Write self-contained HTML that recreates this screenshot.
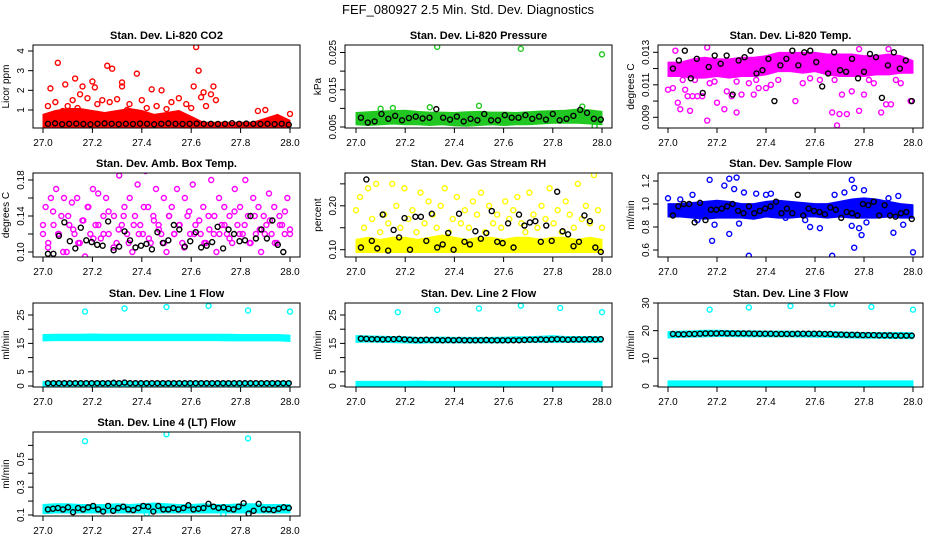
<!DOCTYPE html>
<html><head><meta charset="utf-8"><style>
html,body{margin:0;padding:0;background:#fff;}
svg{display:block;font-family:"Liberation Sans",Arial,sans-serif;}
</style></head><body>
<svg id="chart" width="936" height="540" viewBox="0 0 936 540" xmlns="http://www.w3.org/2000/svg">
<rect width="936" height="540" fill="#fff"/>
<text x="468" y="14" text-anchor="middle" font-size="13">FEF_080927  2.5 Min. Std. Dev. Diagnostics</text>
</svg>
<script>
// ---- data (envelopes: 21 bins from 27.00 to 28.00 by 0.05) ----
const co2EnvLo=[0.2,0.2,0.2,0.2,0.2,0.2,0.2,0.2,0.2,0.2,0.2,0.2,0.2,0.2,0.2,0.2,0.2,0.2,0.2,0.2,0.2];
const co2EnvHi=[0.7,0.9,1.0,1.0,0.9,0.8,0.9,1.0,0.9,0.7,0.8,0.9,0.6,0.3,0.3,0.3,0.3,0.3,0.5,0.7,0.4];
const co2Out=[[27.03,2.1],[27.06,3.4],[27.09,2.3],[27.13,2.6],[27.16,2.2],[27.15,1.8],[27.2,2.45],[27.21,2.15],[27.26,3.25],[27.28,3.1],[27.32,2.2],[27.32,2.4],[27.38,2.85],[27.44,2.05],[27.48,2.0],[27.55,1.6],[27.61,2.2],[27.65,1.9],[27.68,1.8],[27.69,2.2],[27.7,1.5],[27.62,4.2],[27.63,3.0],[27.64,1.65],[27.9,1.0],[27.87,0.95],[28.0,0.8],[27.02,1.2],[27.05,1.4],[27.12,1.5],[27.4,1.5],[27.18,1.6],[27.24,1.5],[27.35,1.3],[27.52,1.4],[27.58,1.3],[27.08,0.95],[27.3,1.55],[27.1,1.2],[27.22,1.3],[27.27,1.4],[27.42,1.1],[27.46,1.2],[27.5,1.05],[27.6,1.1],[27.66,1.2],[27.34,1.0],[27.14,1.1]];
const co2Black=[0.3,0.32,0.28,0.3,0.31,0.29,0.27,0.3,0.32,0.3,0.28,0.3,0.29,0.31,0.3,0.27,0.3,0.32,0.3,0.29,0.3,0.31,0.3,0.3,0.29,0.3,0.33,0.3,0.31,0.3,0.29,0.3,0.28,0.3,0.25];

const presEnvLo=[0.006,0.0058,0.006,0.0062,0.006,0.006,0.0058,0.006,0.0057,0.0056,0.0058,0.006,0.0058,0.006,0.006,0.0062,0.0064,0.0064,0.0064,0.0062,0.006];
const presEnvHi=[0.0085,0.0087,0.0089,0.009,0.0091,0.0088,0.0086,0.0086,0.0085,0.0087,0.0088,0.0086,0.0086,0.0085,0.0087,0.0089,0.009,0.0091,0.0094,0.0092,0.0088];
const presOut=[[27.33,0.0265],[27.67,0.026],[28.0,0.0245],[27.3,0.0103],[27.5,0.0107],[27.92,0.0105],[27.15,0.0101],[27.1,0.0099],[27.97,0.0052]];
const presBlack=[0.0075,0.0062,0.0065,0.0085,0.0072,0.008,0.0068,0.0074,0.0078,0.0073,0.0075,0.0098,0.0075,0.007,0.0078,0.0065,0.0072,0.0068,0.0085,0.0068,0.0068,0.0082,0.0075,0.0075,0.0082,0.0072,0.0078,0.007,0.0085,0.0068,0.0072,0.008,0.0096,0.0088,0.0072,0.007];

const tempEnvLo=[0.0116,0.0116,0.0115,0.0115,0.0116,0.0115,0.0116,0.0116,0.0117,0.0119,0.0119,0.0118,0.0119,0.0117,0.0116,0.0116,0.0116,0.0117,0.0117,0.0118,0.0118];
const tempEnvHi=[0.0123,0.0123,0.0125,0.0126,0.0125,0.0125,0.0126,0.0126,0.0127,0.0129,0.0129,0.0129,0.0129,0.0128,0.0128,0.0128,0.0127,0.0127,0.0128,0.0127,0.0124];
const tempOut=[[27.0,0.0107],[27.02,0.0108],[27.04,0.0099],[27.05,0.0095],[27.05,0.0081],[27.07,0.0107],[27.08,0.0103],[27.09,0.0094],[27.1,0.0103],[27.12,0.0103],[27.14,0.0103],[27.16,0.0088],[27.17,0.0111],[27.2,0.0099],[27.23,0.0095],[27.24,0.0106],[27.26,0.0103],[27.28,0.0093],[27.3,0.0104],[27.33,0.0111],[27.35,0.0104],[27.37,0.0108],[27.4,0.0108],[27.42,0.011],[27.45,0.0113],[27.52,0.01],[27.55,0.0111],[27.62,0.0113],[27.67,0.0093],[27.69,0.0085],[27.7,0.0092],[27.71,0.0104],[27.73,0.0092],[27.75,0.0106],[27.78,0.0094],[27.8,0.0104],[27.84,0.0111],[27.87,0.0093],[27.89,0.0098],[27.91,0.0098],[27.95,0.0111],[27.99,0.01],[27.03,0.0131],[27.16,0.0133],[27.78,0.0132],[27.9,0.0132],[27.98,0.0119],[27.06,0.0113],[27.11,0.0113],[27.19,0.0112],[27.28,0.0112],[27.36,0.0113],[27.58,0.0114],[27.68,0.0113],[27.82,0.0113],[27.93,0.0113]];
const tempBlack=[0.0120,0.0125,0.0131,0.0114,0.0126,0.0105,0.0121,0.0128,0.0123,0.0128,0.0104,0.0125,0.0127,0.0131,0.0117,0.0119,0.0126,0.01,0.0122,0.0126,0.0131,0.0122,0.013,0.0131,0.0124,0.0109,0.0117,0.013,0.0119,0.0118,0.0126,0.0114,0.0118,0.0129,0.0127,0.0102,0.0122,0.013,0.012,0.0125,0.01];

const ambVals=[0.12,0.15,0.11,0.16,0.13,0.17,0.12,0.14,0.16,0.1,0.13,0.155,0.12,0.16,0.11,0.135,0.095,0.15,0.12,0.17,0.13,0.165,0.115,0.14,0.16,0.12,0.195,0.14,0.11,0.185,0.13,0.15,0.12,0.16,0.1,0.14,0.175,0.13,0.12,0.19,0.15,0.11,0.14,0.17,0.13,0.12,0.16,0.1,0.14,0.15,0.12,0.17,0.13,0.11,0.16,0.14,0.12,0.175,0.13,0.205,0.12,0.15,0.11,0.14,0.18,0.12,0.1,0.16,0.13,0.15,0.12,0.14,0.11,0.17,0.13,0.15,0.12,0.18,0.14,0.11,0.16,0.12,0.15,0.1,0.14,0.13,0.165,0.12,0.15,0.11,0.14,0.13,0.12,0.16,0.125];
const ambVals2=[0.13,0.105,0.145,0.12,0.1,0.14,0.125,0.11,0.135,0.15,0.115,0.13,0.12,0.145,0.105,0.125,0.14,0.11,0.13,0.12,0.15,0.115,0.135,0.125,0.11,0.14,0.12,0.13,0.105,0.145,0.12,0.135,0.11,0.125,0.14,0.12,0.13,0.115,0.145,0.12,0.13,0.11,0.14,0.125,0.12,0.135,0.11,0.13,0.145,0.12];
const ambBlack=[0.098,0.098,0.118,0.133,0.112,0.104,0.127,0.113,0.111,0.108,0.107,0.134,0.102,0.106,0.123,0.113,0.105,0.107,0.109,0.103,0.122,0.110,0.113,0.13,0.125,0.106,0.112,0.122,0.105,0.107,0.111,0.128,0.104,0.125,0.12,0.112,0.113,0.14,0.115,0.125,0.115,0.135,0.108,0.1,0.09];

const rhEnvLo=[0.097,0.097,0.097,0.097,0.097,0.097,0.097,0.097,0.097,0.097,0.097,0.097,0.097,0.097,0.097,0.097,0.097,0.097,0.097,0.097,0.097];
const rhEnvHi=[0.12,0.125,0.12,0.125,0.125,0.12,0.125,0.13,0.125,0.12,0.125,0.125,0.12,0.125,0.125,0.12,0.125,0.125,0.12,0.125,0.12];
const rhVals=[0.19,0.22,0.15,0.24,0.17,0.25,0.14,0.18,0.16,0.25,0.2,0.15,0.24,0.17,0.19,0.14,0.23,0.16,0.21,0.18,0.15,0.2,0.24,0.14,0.17,0.22,0.16,0.19,0.15,0.21,0.18,0.23,0.14,0.2,0.16,0.18,0.15,0.21,0.17,0.19,0.22,0.16,0.14,0.23,0.18,0.15,0.2,0.17,0.24,0.16,0.19,0.14,0.21,0.18,0.15,0.25,0.17,0.2,0.16,0.27,0.19,0.15];
const rhBlack=[0.105,0.26,0.12,0.103,0.18,0.098,0.145,0.128,0.172,0.10,0.175,0.175,0.12,0.182,0.105,0.112,0.138,0.10,0.182,0.118,0.112,0.142,0.125,0.138,0.188,0.118,0.115,0.16,0.105,0.18,0.155,0.162,0.165,0.118,0.155,0.12,0.232,0.142,0.135,0.108,0.118,0.178,0.165,0.105,0.095];

const flowEnvLo=[0.9,0.9,0.89,0.88,0.89,0.89,0.89,0.88,0.9,0.89,0.89,0.9,0.9,0.89,0.9,0.89,0.89,0.89,0.9,0.89,0.89];
const flowEnvHi=[0.99,0.99,1.0,1.01,1.02,1.01,0.99,0.99,1.01,1.02,1.01,1.0,0.99,0.99,1.01,1.03,1.04,1.03,1.01,0.99,0.98];
const flowOut=[[27.0,1.05],[27.05,1.04],[27.1,1.08],[27.17,1.21],[27.18,0.68],[27.19,0.82],[27.23,1.16],[27.25,1.22],[27.25,0.74],[27.27,1.13],[27.28,1.23],[27.29,0.83],[27.33,0.55],[27.31,1.1],[27.4,1.08],[27.42,1.09],[27.48,0.88],[27.56,0.86],[27.58,0.8],[27.62,0.79],[27.67,0.55],[27.68,1.08],[27.72,1.1],[27.75,1.21],[27.76,1.14],[27.75,0.81],[27.76,0.62],[27.78,0.79],[27.79,0.73],[27.8,1.12],[27.81,0.84],[27.92,0.75],[27.94,1.07],[27.96,0.82],[28.0,0.58],[27.9,1.05],[27.12,0.86],[27.36,1.09]];
const flowBlack=[0.9,0.98,1.0,1.0,0.84,1.01,0.86,0.95,0.95,0.96,0.98,1.0,0.94,0.92,0.98,0.92,0.94,0.96,0.98,1.02,0.92,0.96,0.92,1.08,0.9,0.96,0.94,0.93,0.91,0.97,0.95,0.88,0.93,0.92,0.9,1.0,0.99,1.02,0.9,0.99,0.9,0.89,0.92,0.93,0.87];

const l1EnvLo=[16.4,16.5,16.5,16.5,16.5,16.5,16.5,16.5,16.5,16.5,16.5,16.5,16.5,16.5,16.5,16.4,16.4,16.4,16.4,16.4,16.2];
const l1EnvHi=[17.6,17.7,17.7,17.7,17.8,17.7,17.7,17.7,17.7,17.7,17.7,17.7,17.7,17.7,17.7,17.7,17.6,17.6,17.6,17.6,17.4];
const l1Out=[[27.17,26.2],[27.33,27.3],[27.5,27.8],[27.67,28.2],[27.83,26.6],[28.0,26.2]];
const l1Black=[1.0,1.0,1.0,1.0,1.0,1.0,1.0,1.0,1.0,1.0,1.0,1.0,1.1,1.0,1.2,1.0,1.0,1.0,1.0,1.0,1.0,1.0,1.0,1.0,1.0,1.0,1.0,1.0,1.0,1.0,1.0,1.0,1.0,1.0,1.0,1.0,1.0,1.0,1.0,1.0,1.0,1.0,1.0,1.0,1.0];

const l2EnvLo=[0.2,0.2,0.2,0.2,0.2,0.2,0.2,0.2,0.2,0.2,0.2,0.2,0.2,0.2,0.2,0.2,0.2,0.2,0.2,0.2,0.2];
const l2EnvHi=[1.1,1.1,1.1,1.1,1.1,1.2,1.1,1.1,1.1,1.1,1.1,1.1,1.1,1.1,1.1,1.1,1.1,1.1,1.1,1.1,1.1];
const l2EnvLo2=[15.9,16.0,15.9,15.8,15.7,15.6,15.7,15.7,15.7,15.7,15.7,15.7,15.7,15.9,15.9,15.9,15.9,15.9,15.9,15.9,15.9];
const l2EnvHi2=[17.2,17.1,17.0,16.9,16.8,16.6,16.6,16.7,16.6,16.6,16.6,16.6,16.7,16.8,16.8,17.0,17.2,16.9,16.9,16.9,16.8];
const l2Out=[[27.17,26.0],[27.33,26.8],[27.5,27.3],[27.67,28.3],[27.83,27.5],[28.0,26.0]];
const l2Black=[16.7,16.6,16.5,16.5,16.4,16.5,16.5,16.6,16.4,16.3,16.2,16.2,16.3,16.2,16.2,16.1,16.2,16.1,16.2,16.1,16.1,16.1,16.1,16.2,16.1,16.1,16.1,16.1,16.1,16.1,16.2,16.3,16.3,16.4,16.3,16.4,16.5,16.4,16.3,16.4,16.4,16.4,16.5,16.4,16.5];

const l3EnvLo=[0.2,0.2,0.2,0.2,0.2,0.2,0.2,0.2,0.2,0.2,0.2,0.2,0.2,0.2,0.2,0.2,0.2,0.2,0.2,0.2,0.2];
const l3EnvHi=[1.3,1.3,1.3,1.3,1.3,1.3,1.3,1.3,1.3,1.3,1.3,1.3,1.3,1.3,1.3,1.3,1.3,1.3,1.3,1.3,1.3];
const l3EnvLo2=[17.9,18.1,18.2,18.3,18.4,18.4,18.3,18.3,18.3,18.3,18.3,18.2,18.2,18.1,18.0,17.9,17.8,17.8,17.7,17.7,17.6];
const l3EnvHi2=[19.1,19.3,19.4,19.6,19.6,19.5,19.4,19.4,19.3,19.3,19.3,19.2,19.2,19.1,19.0,18.9,18.8,18.8,18.8,18.8,18.7];
const l3Out=[[27.17,27.6],[27.33,28.4],[27.5,28.9],[27.67,29.6],[27.83,28.6],[28.0,27.6]];
const l3Black=[18.8,18.7,18.7,18.8,18.8,18.9,19.0,19.0,19.0,19.1,19.0,19.0,19.0,19.0,19.0,18.9,18.9,18.9,18.9,18.8,18.8,18.8,18.8,18.9,18.9,18.9,18.9,18.9,18.8,18.8,18.6,18.6,18.5,18.5,18.5,18.4,18.4,18.4,18.3,18.3,18.3,18.2,18.2,18.2,18.2];

const l4EnvLo=[0.12,0.125,0.125,0.125,0.125,0.125,0.125,0.125,0.125,0.125,0.125,0.125,0.125,0.125,0.125,0.125,0.125,0.125,0.125,0.125,0.125];
const l4EnvHi=[0.165,0.17,0.17,0.165,0.165,0.165,0.17,0.165,0.17,0.175,0.17,0.165,0.165,0.17,0.165,0.165,0.17,0.17,0.165,0.165,0.165];
const l4Out=[[27.17,0.63],[27.5,0.68],[27.83,0.65],[27.73,0.105],[27.42,0.11]];
const l4Black=[0.14,0.145,0.15,0.14,0.155,0.12,0.15,0.14,0.155,0.165,0.14,0.125,0.165,0.13,0.15,0.16,0.14,0.135,0.15,0.165,0.16,0.125,0.165,0.14,0.14,0.15,0.14,0.15,0.17,0.14,0.145,0.15,0.18,0.16,0.15,0.155,0.145,0.14,0.16,0.185,0.11,0.13,0.18,0.14,0.14,0.135,0.145,0.155,0.15];

// ---- layout ----
const NS='http://www.w3.org/2000/svg';
const svg=document.getElementById('chart');
const cols=[{x0:43,x1:290,bl:33,br:300},{x0:356,x1:602,bl:345,br:612},{x0:668,x1:913,bl:658,br:923}];
const rows=[{t:45,b:128},{t:173,b:257},{t:303,b:387},{t:432,b:516}];
const xTicks=[27.0,27.2,27.4,27.6,27.8,28.0];
const xLabels=['27.0','27.2','27.4','27.6','27.8','28.0'];

function mk(tag,attrs,parent){const e=document.createElementNS(NS,tag);for(const k in attrs)e.setAttribute(k,attrs[k]);(parent||svg).appendChild(e);return e;}

function panel(p){
  const c=cols[p.col],r=rows[p.row];
  const g=mk('g',{});
  
  
  const xs=v=>c.x0+(v-27)*(c.x1-c.x0);
  const ys=v=>p.a[1]+(v-p.a[0])*(p.b[1]-p.a[1])/(p.b[0]-p.a[0]);
  const clip='clip-'+p.name;
  const cp=mk('clipPath',{id:clip},g);
  mk('rect',{x:c.bl,y:r.t,width:c.br-c.bl,height:r.b-r.t},cp);
  const plot=mk('g',{'clip-path':'url(#'+clip+')'},g);
  
  
  (p.envs||[]).forEach(([lo,hi])=>{
    let pts=[];
    for(let i=0;i<hi.length;i++)pts.push(xs(27+i*0.05)+','+(ys(hi[i])-1.5));
    for(let i=lo.length-1;i>=0;i--)pts.push(xs(27+i*0.05)+','+(ys(lo[i])+1.5));
    const e=mk('polygon',{points:pts.join(' '),fill:p.color,stroke:p.color,'stroke-width':1,'stroke-linejoin':'round'},plot);
    
    
  });
  const dot=(x,y,col)=>{const e=mk('circle',{cx:xs(x),cy:ys(y),r:2.5,fill:'none',stroke:col,'stroke-width':1.4},plot);
    
    };
  (p.vals||[]).forEach(v=>v.forEach((y,i)=>dot(27+i/(v.length-1),y,p.color)));
  (p.out||[]).forEach(([x,y])=>dot(x,y,p.color));
  p.black.forEach((y,i)=>dot(27.02+i*0.975/(p.black.length-1),y,'#000'));
  const bx=mk('rect',{x:c.bl,y:r.t,width:c.br-c.bl,height:r.b-r.t,fill:'none',stroke:'#000','stroke-width':1},g);
  
  
  xTicks.forEach((t,i)=>{
    mk('line',{x1:xs(t),x2:xs(t),y1:r.b,y2:r.b+5,stroke:'#000'},g);
    const tx=mk('text',{x:xs(t),y:r.b+18,'text-anchor':'middle','font-size':10},g);tx.textContent=xLabels[i];
    
    
  });
  p.ticks.forEach(t=>mk('line',{x1:c.bl-5,x2:c.bl,y1:ys(t),y2:ys(t),stroke:'#000'},g));
  p.labels.forEach(t=>{
    const y=ys(parseFloat(t));
    const tx=mk('text',{x:c.bl-9,y:y,'text-anchor':'middle','font-size':10,transform:'rotate(-90 '+(c.bl-9)+' '+y+')'},g);
    tx.textContent=t;
    
    
  });
  const yc=(r.t+r.b)/2;
  const yt=mk('text',{x:c.bl-24,y:yc,'text-anchor':'middle','font-size':10,transform:'rotate(-90 '+(c.bl-24)+' '+yc+')'},g);
  yt.textContent=p.ylab;
  
  
  const ti=mk('text',{x:(c.bl+c.br)/2,y:r.t-6,'text-anchor':'middle','font-size':11,'font-weight':'bold'},g);
  ti.textContent=p.title;
  
  
}

panel({name:'co2',col:0,row:0,title:'Stan. Dev. Li-820 CO2',ylab:'Licor ppm',color:'#ff0000',a:[1,110],b:[4,51],ticks:[1,2,3,4],labels:['1','2','3','4'],envs:[[co2EnvLo,co2EnvHi]],out:co2Out,black:co2Black});
panel({name:'pressure',col:1,row:0,title:'Stan. Dev. Li-820 Pressure',ylab:'kPa',color:'#22c822',a:[0.005,127],b:[0.025,52.5],ticks:[0.005,0.01,0.015,0.02,0.025],labels:['0.005','0.015','0.025'],envs:[[presEnvLo,presEnvHi]],out:presOut,black:presBlack});
panel({name:'temp',col:2,row:0,title:'Stan. Dev. Li-820 Temp.',ylab:'degrees C',color:'#ff00ff',a:[0.009,117.3],b:[0.013,52.3],ticks:[0.009,0.01,0.011,0.012,0.013],labels:['0.009','0.011','0.013'],envs:[[tempEnvLo,tempEnvHi]],out:tempOut,black:tempBlack});
panel({name:'amb-box-temp',col:0,row:1,title:'Stan. Dev. Amb. Box Temp.',ylab:'degrees C',color:'#ff00ff',a:[0.10,252],b:[0.18,180],ticks:[0.10,0.12,0.14,0.16,0.18],labels:['0.10','0.14','0.18'],vals:[ambVals,ambVals2],black:ambBlack});
panel({name:'gas-stream-rh',col:1,row:1,title:'Stan. Dev. Gas Stream RH',ylab:'percent',color:'#ffff00',a:[0.10,249.7],b:[0.20,205.8],ticks:[0.10,0.15,0.20,0.25],labels:['0.10','0.20'],envs:[[rhEnvLo,rhEnvHi]],vals:[rhVals],black:rhBlack});
panel({name:'sample-flow',col:2,row:1,title:'Stan. Dev. Sample Flow',ylab:'ml/min',color:'#0000ff',a:[0.6,250],b:[1.2,181],ticks:[0.6,0.8,1.0,1.2],labels:['0.6','0.8','1.0','1.2'],envs:[[flowEnvLo,flowEnvHi]],out:flowOut,black:flowBlack});
panel({name:'line1-flow',col:0,row:2,title:'Stan. Dev. Line 1 Flow',ylab:'ml/min',color:'#00ffff',a:[0,386],b:[25,315],ticks:[0,5,10,15,20,25],labels:['0','5','15','25'],envs:[[l1EnvLo,l1EnvHi],[l2EnvLo,l2EnvHi]],out:l1Out,black:l1Black});
panel({name:'line2-flow',col:1,row:2,title:'Stan. Dev. Line 2 Flow',ylab:'ml/min',color:'#00ffff',a:[0,386],b:[25,315],ticks:[0,5,10,15,20,25],labels:['0','5','15','25'],envs:[[l2EnvLo,l2EnvHi],[l2EnvLo2,l2EnvHi2]],out:l2Out,black:l2Black});
panel({name:'line3-flow',col:2,row:2,title:'Stan. Dev. Line 3 Flow',ylab:'ml/min',color:'#00ffff',a:[0,386],b:[30,303],ticks:[0,10,20,30],labels:['0','10','20','30'],envs:[[l3EnvLo,l3EnvHi],[l3EnvLo2,l3EnvHi2]],out:l3Out,black:l3Black});
panel({name:'line4-flow',col:0,row:3,title:'Stan. Dev. Line 4 (LT) Flow',ylab:'ml/min',color:'#00ffff',a:[0.1,515],b:[0.5,459.3],ticks:[0.1,0.2,0.3,0.4,0.5,0.6],labels:['0.1','0.3','0.5'],envs:[[l4EnvLo,l4EnvHi]],out:l4Out,black:l4Black});
</script>
</body></html>
